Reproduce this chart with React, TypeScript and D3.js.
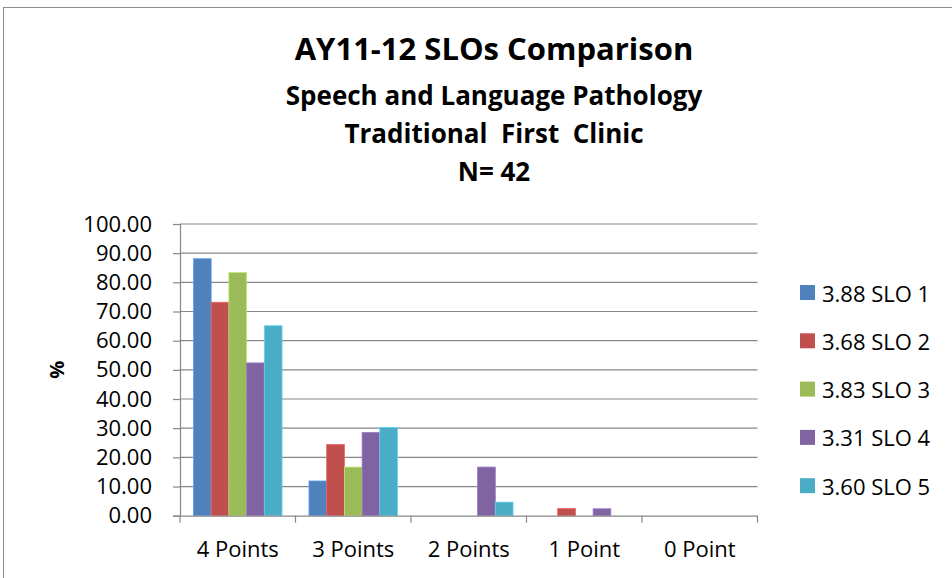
import React, { useEffect, useRef } from 'react';
import * as d3 from 'd3';

// chart data
const categories = ['4 Points', '3 Points', '2 Points', '1 Point', '0 Point'];
const seriesNames = ['3.88 SLO 1', '3.68 SLO 2', '3.83 SLO 3', '3.31 SLO 4', '3.60 SLO 5'];
const slo1 = [88.1, 11.9, 0, 0, 0];
const slo2 = [73.17, 24.39, 0, 2.44, 0];
const slo3 = [83.33, 16.67, 0, 0, 0];
const slo4 = [52.38, 28.57, 16.67, 2.38, 0];
const slo5 = [65.12, 30.23, 4.65, 0, 0];
const yTicks = [0, 10, 20, 30, 40, 50, 60, 70, 80, 90, 100];
const colors = ['#4F81BD', '#C0504D', '#9BBB59', '#8064A2', '#4BACC6'];

const titleLines = ['Speech and Language Pathology', 'Traditional  First  Clinic', 'N= 42'];

function App() {
  const ref = useRef<SVGSVGElement>(null);

  useEffect(() => {
    const width = 952, height = 578;
    const margin = { top: 224, right: 194.5, bottom: 62.3, left: 180 };
    const font = "'Open Sans', sans-serif";
    const values = [slo1, slo2, slo3, slo4, slo5];

    const svg = d3.select(ref.current);
    svg.selectAll('*').remove();
    svg.attr('width', width).attr('height', height);

    svg.append('rect')
      .attr('x', 3.5).attr('y', 7.5)
      .attr('width', width + 10).attr('height', height + 10)
      .attr('fill', '#fff').attr('stroke', '#8c8c8c');

    const x0 = d3.scaleBand()
      .domain(categories)
      .range([margin.left, width - margin.right])
      .paddingInner(0).paddingOuter(0);

    const x1 = d3.scaleBand()
      .domain(seriesNames)
      .range([0, x0.bandwidth()])
      .paddingInner(0)
      .paddingOuter(0.76);

    const y = d3.scaleLinear()
      .domain([0, 100])
      .range([height - margin.bottom, margin.top]);

    // gridlines
    svg.append('g')
      .selectAll('line')
      .data(yTicks.filter(d => d > 0))
      .join('line')
      .attr('x1', margin.left).attr('x2', width - margin.right)
      .attr('y1', d => y(d)).attr('y2', d => y(d))
      .attr('stroke', '#878787').attr('stroke-width', 1.2);

    // bars
    categories.forEach((cat, ci) => {
      svg.append('g')
        .selectAll('rect')
        .data(seriesNames.map((s, si) => ({ s, si, v: values[si][ci] })).filter(d => d.v > 0))
        .join('rect')
        .attr('x', d => x0(cat)! + x1(d.s)!)
        .attr('y', d => y(d.v))
        .attr('width', x1.bandwidth())
        .attr('height', d => y(0) - y(d.v))
        .attr('fill', d => colors[d.si])
        .attr('stroke', d => d3.color(colors[d.si])!.brighter(0.6).toString())
        .attr('stroke-width', 0.8);
    });

    // y axis
    const yAxis = svg.append('g')
      .attr('transform', `translate(${margin.left},0)`)
      .call(d3.axisLeft(y).tickValues(yTicks).tickFormat(d3.format('.2f')).tickSize(7).tickPadding(21));
    yAxis.select('.domain').attr('stroke', '#878787').attr('stroke-width', 1.2);
    yAxis.selectAll('.tick line').attr('stroke', '#878787').attr('stroke-width', 1.2);
    yAxis.selectAll('text')
      .attr('fill', '#000')
      .style('font-family', font)
      .style('font-size', '22px');

    // x axis
    const xAxis = svg.append('g')
      .attr('transform', `translate(0,${y(0)})`)
      .call(d3.axisBottom(x0).tickSize(0).tickPadding(26));
    xAxis.select('.domain').attr('stroke', '#878787').attr('stroke-width', 1.2);
    xAxis.selectAll('text')
      .attr('fill', '#000')
      .style('font-family', font)
      .style('font-size', '22px');
    xAxis.selectAll('line.sep')
      .data([...categories.map(c => x0(c)!), x0(categories[categories.length - 1])! + x0.bandwidth()])
      .join('line')
      .attr('class', 'sep')
      .attr('x1', d => d).attr('x2', d => d)
      .attr('y1', 0).attr('y2', 7)
      .attr('stroke', '#878787').attr('stroke-width', 1.2);

    // y label
    svg.append('text')
      .attr('transform', `translate(64,${(y(0) + y(100)) / 2}) rotate(-90)`)
      .attr('text-anchor', 'middle')
      .style('font-family', font)
      .style('font-weight', 'bold')
      .style('font-size', '20px')
      .text('%');

    // titles
    svg.append('text')
      .attr('x', 494).attr('y', 60)
      .attr('text-anchor', 'middle')
      .style('font-family', font)
      .style('font-weight', 'bold')
      .style('font-size', '31px')
      .text('AY11-12 SLOs Comparison');

    svg.append('g')
      .selectAll('text')
      .data(titleLines)
      .join('text')
      .attr('x', 494)
      .attr('y', (d, i) => 105 + i * 38)
      .attr('text-anchor', 'middle')
      .attr('xml:space', 'preserve')
      .style('white-space', 'pre')
      .style('font-family', font)
      .style('font-weight', 'bold')
      .style('font-size', '26px')
      .text(d => d);

    // legend
    const legend = svg.append('g')
      .selectAll('g')
      .data(seriesNames)
      .join('g')
      .attr('transform', (d, i) => `translate(800,${292.5 + i * 48.3})`);
    legend.append('rect')
      .attr('x', 0).attr('y', -7.5)
      .attr('width', 15).attr('height', 15)
      .attr('fill', (d, i) => colors[i]);
    legend.append('text')
      .attr('x', 22).attr('y', 0)
      .attr('dominant-baseline', 'central')
      .style('font-family', font)
      .style('font-size', '22px')
      .text(d => d);
  }, []);

  return (
    <div>
      <svg ref={ref} style={{ position: 'absolute', left: 0, top: 0 }}></svg>
    </div>
  );
}

export default App;
